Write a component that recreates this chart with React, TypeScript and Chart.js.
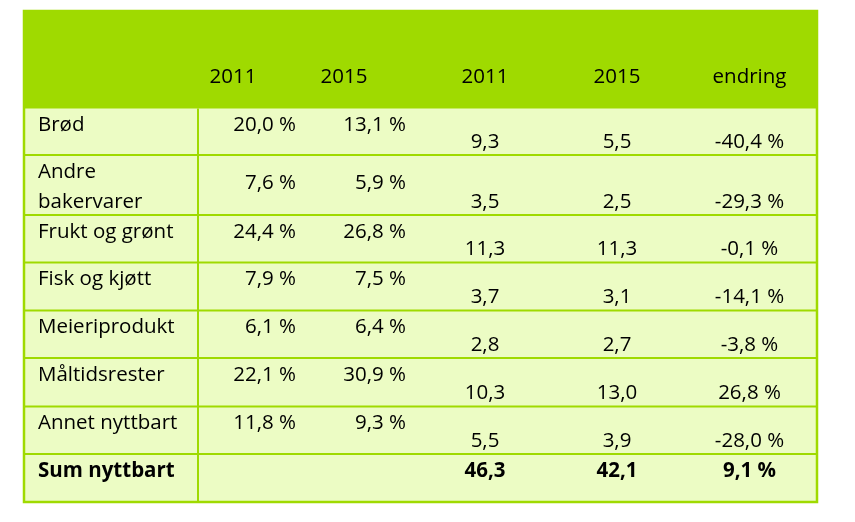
import React, { useEffect, useRef } from 'react';
import { Chart, registerables } from 'chart.js';

Chart.register(...registerables);

// ---------- data ----------
const headerLabels = ['', '2011', '2015', '2011', '2015', 'endring'];
const categories = [
  ['Brød'],
  ['Andre', 'bakervarer'],
  ['Frukt og grønt'],
  ['Fisk og kjøtt'],
  ['Meieriprodukt'],
  ['Måltidsrester'],
  ['Annet nyttbart'],
];
const share2011 = [20.0, 7.6, 24.4, 7.9, 6.1, 22.1, 11.8];
const share2015 = [13.1, 5.9, 26.8, 7.5, 6.4, 30.9, 9.3];
const amount2011 = [9.3, 3.5, 11.3, 3.7, 2.8, 10.3, 5.5];
const amount2015 = [5.5, 2.5, 11.3, 3.1, 2.7, 13.0, 3.9];
const changePct = [-40.4, -29.3, -0.1, -14.1, -3.8, 26.8, -28.0];
const totalLabel = 'Sum nyttbart';
const total2011 = 46.3;
const total2015 = 42.1;
const totalChange = 9.1;

// ---------- layout (scale units) ----------
const TABLE_W = 793;
const ROW_HEIGHTS = [97.5, 46.5, 60, 47.5, 48, 47.5, 48.5, 47.5, 48];
const TABLE_H = ROW_HEIGHTS.reduce((a, b) => a + b, 0);
const LABEL_COL_RIGHT = 174;
const X_LABEL = 14;
const X_PCT1 = 272;
const X_PCT2 = 382;
const X_AMT1 = 461;
const X_AMT2 = 593;
const X_CHG = 725.5;
const X_HEAD = [0, 209, 320, 461, 593, 725.5];

const GREEN = '#9FDA00';
const CELL = '#ECFCC4';
const FONT = '"Open Sans", "Noto Sans", sans-serif';
const FS = 20.5;

const fmt = (v: number) => v.toFixed(1).replace('.', ',');
const fmtPct = (v: number) => fmt(v) + ' %';

const tablePlugin = {
  id: 'tablePlugin',
  beforeDatasetsDraw(chart: any) {
    const ctx = chart.ctx as CanvasRenderingContext2D;
    const xs = chart.scales.x;
    const ys = chart.scales.y;
    const px = (u: number) => xs.getPixelForValue(u);
    const py = (u: number) => ys.getPixelForValue(u);

    const edges: number[] = [0];
    ROW_HEIGHTS.forEach((h) => edges.push(edges[edges.length - 1] + h));

    ctx.save();
    // body fill
    ctx.fillStyle = CELL;
    ctx.fillRect(px(0), py(0), px(TABLE_W) - px(0), py(TABLE_H) - py(0));
    // header fill
    ctx.fillStyle = GREEN;
    ctx.fillRect(px(0), py(0), px(TABLE_W) - px(0), py(edges[1]) - py(0));

    // grid lines
    ctx.strokeStyle = GREEN;
    ctx.lineWidth = 2;
    for (let i = 2; i < edges.length - 1; i++) {
      ctx.beginPath();
      ctx.moveTo(px(0), py(edges[i]));
      ctx.lineTo(px(TABLE_W), py(edges[i]));
      ctx.stroke();
    }
    ctx.beginPath();
    ctx.moveTo(px(LABEL_COL_RIGHT), py(edges[1]));
    ctx.lineTo(px(LABEL_COL_RIGHT), py(TABLE_H));
    ctx.stroke();
    ctx.lineWidth = 2.5;
    ctx.strokeRect(px(0), py(0), px(TABLE_W) - px(0), py(TABLE_H) - py(0));

    // text
    ctx.fillStyle = '#000';
    ctx.textBaseline = 'alphabetic';
    const txt = (s: string, x: number, y: number, align: CanvasTextAlign, bold = false) => {
      ctx.font = `${bold ? 'bold ' : ''}${FS}px ${FONT}`;
      ctx.textAlign = align;
      ctx.fillText(s, px(x), py(y));
    };

    // header
    headerLabels.forEach((h, i) => {
      if (h) txt(h, X_HEAD[i], edges[1] - 25.5, 'center');
    });

    // rows
    categories.forEach((lines, r) => {
      const top = edges[r + 1];
      const bottom = edges[r + 2];
      const multi = lines.length > 1;
      lines.forEach((line, li) => txt(line, X_LABEL, top + 22.5 + li * 30, 'left'));
      const pctY = multi ? top + 34 : top + 22.5;
      txt(fmtPct(share2011[r]), X_PCT1, pctY, 'right');
      txt(fmtPct(share2015[r]), X_PCT2, pctY, 'right');
      const amtY = bottom - 7.3;
      txt(fmt(amount2011[r]), X_AMT1, amtY, 'center');
      txt(fmt(amount2015[r]), X_AMT2, amtY, 'center');
      txt(fmtPct(changePct[r]), X_CHG, amtY, 'center');
    });

    // total row
    const tTop = edges[edges.length - 2];
    const tY = tTop + 23;
    txt(totalLabel, X_LABEL, tY, 'left', true);
    txt(fmt(total2011), X_AMT1, tY, 'center', true);
    txt(fmt(total2015), X_AMT2, tY, 'center', true);
    txt(fmtPct(totalChange), X_CHG, tY, 'center', true);

    ctx.restore();
  },
};

export default function App() {
  const ref = useRef<HTMLCanvasElement | null>(null);
  useEffect(() => {
    document.body.style.margin = '0';
    const canvas = ref.current;
    if (!canvas) return;
    const chart = new Chart(canvas, {
      type: 'scatter',
      data: { datasets: [{ data: [], pointRadius: 0 }] },
      options: {
        animation: false,
        responsive: true,
        maintainAspectRatio: false,
        layout: { padding: { left: 24, top: 11, right: 38, bottom: 20 } },
        plugins: { legend: { display: false }, tooltip: { enabled: false } },
        scales: {
          x: { type: 'linear', min: 0, max: TABLE_W, display: false },
          y: { type: 'linear', min: 0, max: TABLE_H, reverse: true, display: false },
        },
      },
      plugins: [tablePlugin],
    });
    return () => chart.destroy();
  }, []);
  return (
    <div style={{ position: 'relative', width: 855, height: 522 }}>
      <canvas ref={ref} />
    </div>
  );
}
